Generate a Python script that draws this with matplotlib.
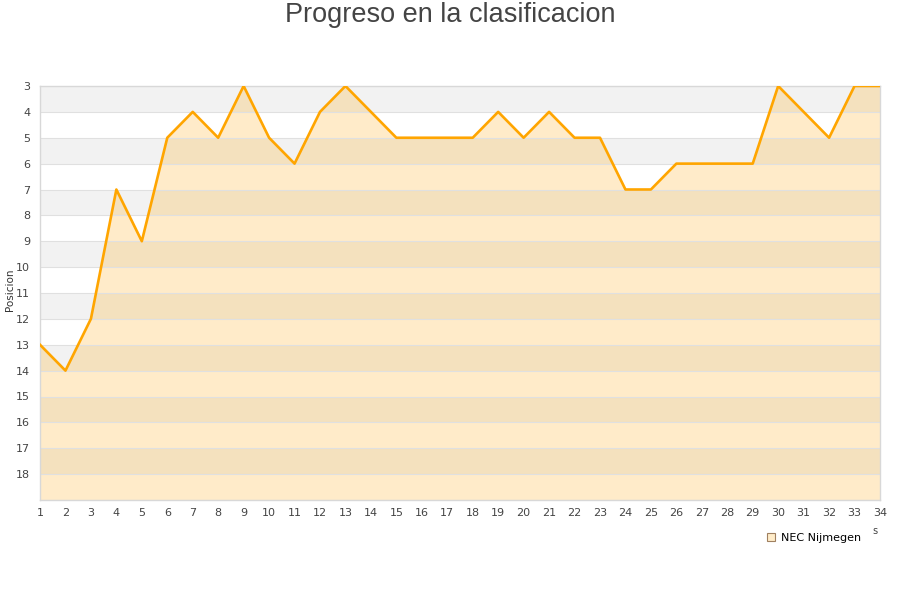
import matplotlib
matplotlib.use("Agg")
import matplotlib.pyplot as plt

# jornadas y posicion de NEC Nijmegen
rounds = list(range(1, 35))
positions = [13, 14, 12, 7, 9, 5, 4, 5, 3, 5, 6, 4, 3, 4, 5, 5, 5, 5, 4, 5,
             4, 5, 5, 7, 7, 6, 6, 6, 6, 3, 4, 5, 3, 3]
y_ticks = list(range(3, 19))
team = "NEC Nijmegen"

fig = plt.figure(figsize=(9, 6), dpi=100)
ax = fig.add_axes([40 / 900, 1 - 500 / 600, 840 / 900, 414 / 600])

## bandas alternas de fondo
for lo in range(3, 19, 2):
    ax.axhspan(lo, lo + 1, color='#f2f2f2', zorder=0, lw=0)

## lineas horizontales de la rejilla
for y in range(3, 20):
    ax.axhline(y, color='#e0e0e0', linewidth=0.8, zorder=2)

## area y linea
ax.fill_between(rounds, positions, 19, color='orange', alpha=0.21, lw=0, zorder=1)
ax.plot(rounds, positions, color='#ffa500', linewidth=1.9, zorder=3)

ax.set_xlim(1, 34)
ax.set_ylim(19, 3)
ax.set_xticks(rounds)
ax.set_yticks(y_ticks)
ax.tick_params(which='both', length=0)
ax.tick_params(axis='both', labelsize=8, labelcolor='#444444')
ax.tick_params(axis='y', pad=7)
ax.tick_params(axis='x', pad=6)
for s in ax.spines.values():
    s.set_color('#d8d8d8')
    s.set_linewidth(1)

fig.text(10 / 900, 1 - 290 / 600, 'Posicion', rotation=90, fontsize=7.5,
         color='#333333', ha='center', va='center')
fig.text(0.5, 1 - 15 / 600, 'Progreso en la clasificacion', ha='center', va='center',
         fontsize=19.5, color='#444444', family=['Liberation Sans', 'DejaVu Sans'])

## leyenda
leg_handle = plt.Line2D([], [], marker='s', linestyle='none', markersize=6,
                        markerfacecolor='#ffecc9', markeredgecolor='#a08060',
                        markeredgewidth=0.8)
fig.legend([leg_handle], [team], loc='center', bbox_to_anchor=(813 / 900, 1 - 538 / 600),
           frameon=False, fontsize=8, handletextpad=0.3, handlelength=1.2)
fig.text(875 / 900, 1 - 531 / 600, 's', fontsize=7, color='#444444', ha='center', va='center')

fig.savefig('out.png', dpi=100)
